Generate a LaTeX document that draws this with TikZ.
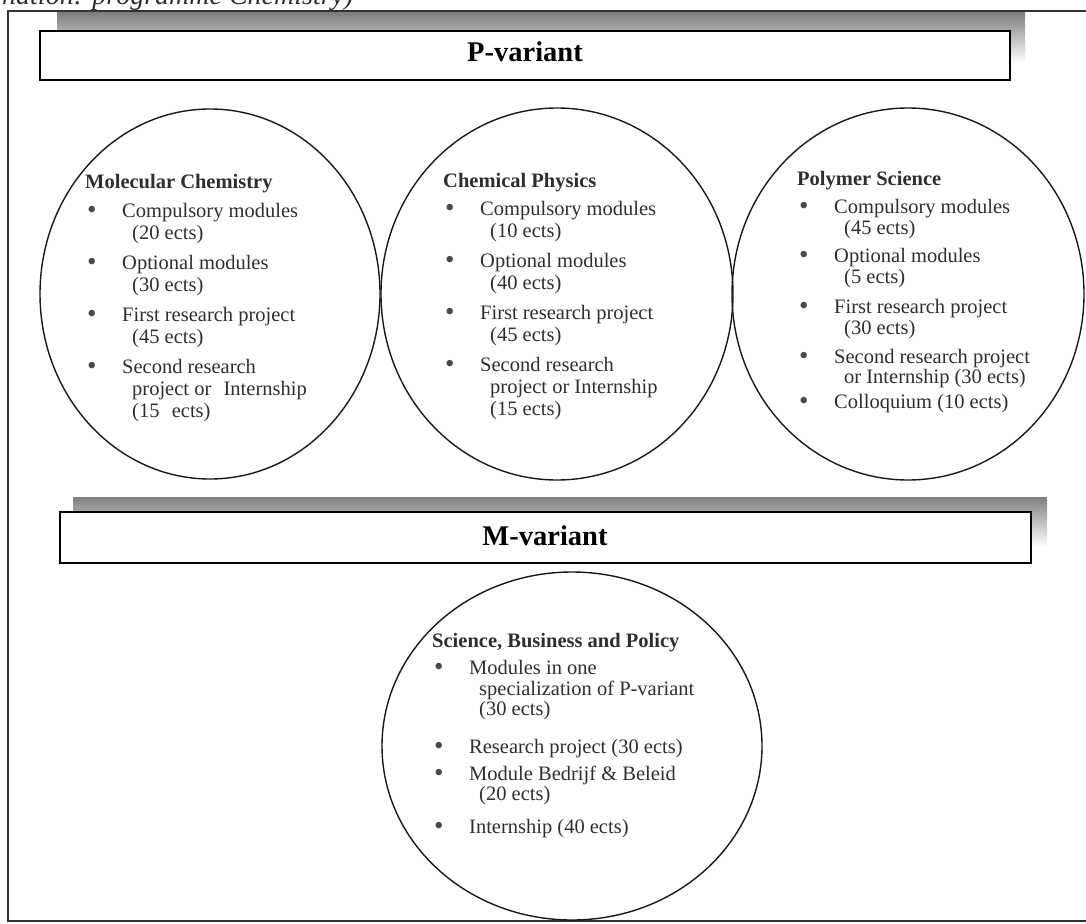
\documentclass[tikz,border=0pt]{standalone}
\usepackage{fontspec}
\setmainfont{Liberation Serif}
\usetikzlibrary{shapes.geometric}
\definecolor{ink}{HTML}{2E2E2E}
\definecolor{shade}{HTML}{C6C6C6}
\definecolor{bul}{HTML}{4A4A4A}
\newcommand{\bigbul}{\raisebox{-1.5pt}{\fontsize{27}{27}\selectfont\textcolor{bul}{\textbullet}}}
\newcommand{\itm}[1]{\hspace{2pt}\makebox[35pt][l]{\bigbul}#1}
\newcommand{\cnt}[1]{\hspace{47pt}#1}
\tikzset{
  blk/.style={anchor=base west, inner sep=0pt, text=ink, font=\fontsize{20.5}{22}\selectfont},
  hdr/.style={anchor=base, inner sep=0pt, text=black, font=\bfseries\fontsize{28.5}{30}\selectfont},
  vbox/.style={draw=black, line width=1.8pt, fill=white, rectangle, inner sep=0pt},
  oval/.style={draw=black!90, line width=1.4pt, ellipse, inner sep=0pt},
}
\begin{document}
\begin{tikzpicture}[x=1pt,y=-1pt]
\useasboundingbox (0,0) rectangle (1086,923);
\clip (0,0) rectangle (1086,923);
% cut-off caption
\node[anchor=base west, inner sep=0pt, text=ink, font=\itshape\fontsize{28}{30}\selectfont] (cap) at (2,5) {nation: programme Chemistry)};
% frame
\draw[line width=1.2pt, draw=black!80] (1095,11) -- (8,11) -- (8,921) -- (1095,921);
% P-variant
\fill[shade] (57,13) rectangle (1025,63);
\node[vbox, minimum width=970pt, minimum height=49pt] (pbox) at (525,55.5) {};
\node[hdr] (ptxt) at (525,62) {P-variant};
% circles
\node[oval, minimum width=340pt, minimum height=370pt] (c1) at (210,294) {};
\node[oval, minimum width=352pt, minimum height=372pt] (c2) at (557,294) {};
\node[oval, minimum width=352pt, minimum height=372pt] (c3) at (908,294) {};
% M-variant
\fill[shade] (73,497) rectangle (1047,547);
\node[vbox, minimum width=971pt, minimum height=51pt] (mbox) at (545.5,537.5) {};
\node[hdr] (mtxt) at (545,545) {M-variant};
\node[oval, minimum width=380pt, minimum height=348pt] (c4) at (572,746) {};
% texts
\node[blk] (t1) at (85,188) {\begin{tabular}[t]{@{}l@{}}
\textbf{Molecular Chemistry}\\[7pt]
\itm{Compulsory modules}\\
\cnt{(20 ects)}\\[8pt]
\itm{Optional modules}\\
\cnt{(30 ects)}\\[8pt]
\itm{First research project}\\
\cnt{(45 ects)}\\[8pt]
\itm{Second research}\\
\cnt{project or\hspace{0.35em} Internship}\\
\cnt{(15\hspace{0.35em} ects)}
\end{tabular}};
\node[blk] (t2) at (443,187) {\begin{tabular}[t]{@{}l@{}}
\textbf{Chemical Physics}\\[6pt]
\itm{Compulsory modules}\\
\cnt{(10 ects)}\\[8pt]
\itm{Optional modules}\\
\cnt{(40 ects)}\\[8pt]
\itm{First research project}\\
\cnt{(45 ects)}\\[8pt]
\itm{Second research}\\
\cnt{project or Internship}\\
\cnt{(15 ects)}
\end{tabular}};
\node[blk] (t3) at (797,185) {\begin{tabular}[t]{@{}l@{}}
\textbf{Polymer Science}\\[6pt]
\itm{Compulsory modules}\\[-1pt]
\cnt{(45 ects)}\\[6pt]
\itm{Optional modules}\\[-1pt]
\cnt{(5 ects)}\\[8pt]
\itm{First research project}\\[-1pt]
\cnt{(30 ects)}\\[7pt]
\itm{Second research project}\\[-2pt]
\cnt{or Internship (30 ects)}\\[3pt]
\itm{Colloquium (10 ects)}
\end{tabular}};
\node[blk] (t4) at (432,647) {\begin{tabular}[t]{@{}l@{}}
\textbf{Science, Business and Policy}\\[5pt]
\itm{Modules in one}\\[-1pt]
\cnt{specialization of P-variant}\\[-2pt]
\cnt{(30 ects)}\\[16pt]
\itm{Research project (30 ects)}\\[5pt]
\itm{Module Bedrijf \& Beleid}\\[-2pt]
\cnt{(20 ects)}\\[11pt]
\itm{Internship (40 ects)}
\end{tabular}};
\end{tikzpicture}
\end{document}
